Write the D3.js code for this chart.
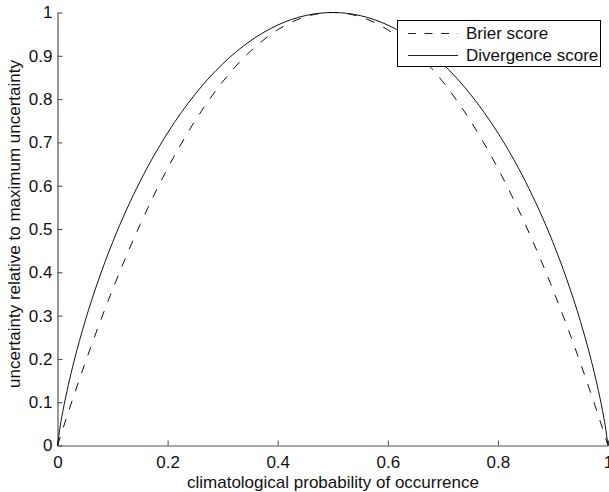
<!DOCTYPE html>
<html><head><meta charset="utf-8">
<script src="https://cdn.jsdelivr.net/npm/d3@7"></script>
<style>body{margin:0;background:#fff}svg{display:block}text{font-family:"Liberation Sans",Arial,sans-serif}</style>
</head><body>
<svg id="c" width="609" height="492"></svg>
<script>
const probs   = [0,0.005,0.01,0.02,0.03,0.05,0.075,0.1,0.15,0.2,0.25,0.3,0.35,0.4,0.45,0.5,0.55,0.6,0.65,0.7,0.75,0.8,0.85,0.9,0.925,0.95,0.97,0.98,0.99,0.995,1];
const brier   = [0,0.0199,0.0396,0.0784,0.1164,0.19,0.2775,0.36,0.51,0.64,0.75,0.84,0.91,0.96,0.99,1,0.99,0.96,0.91,0.84,0.75,0.64,0.51,0.36,0.2775,0.19,0.1164,0.0784,0.0396,0.0199,0];
const diverg  = [0,0.0454,0.0808,0.1414,0.1944,0.2864,0.3843,0.469,0.6098,0.7219,0.8113,0.8813,0.9341,0.971,0.9928,1,0.9928,0.971,0.9341,0.8813,0.8113,0.7219,0.6098,0.469,0.3843,0.2864,0.1944,0.1414,0.0808,0.0454,0];
const xTicks  = [0,0.2,0.4,0.6,0.8,1];
const yTicks  = [0,0.1,0.2,0.3,0.4,0.5,0.6,0.7,0.8,0.9,1];
const seriesNames = ["Brier score","Divergence score"];

const svg = d3.select("#c");
const x = d3.scaleLinear().domain([0,1]).range([57.5,608]);
const y = d3.scaleLinear().domain([0,1]).range([445.5,12.5]);
const fmt = d => d===0||d===1 ? String(d) : d3.format(".1f")(d);
const FS = 17;

const gx = svg.append("g").attr("transform","translate(0,445.5)")
  .call(d3.axisBottom(x).tickValues(xTicks).tickSizeInner(-5).tickSizeOuter(0).tickPadding(10).tickFormat(fmt));
const gy = svg.append("g").attr("transform","translate(57.5,0)")
  .call(d3.axisLeft(y).tickValues(yTicks).tickSizeInner(-5).tickSizeOuter(0).tickPadding(5).tickFormat(fmt));
[gx,gy].forEach(g=>{
  g.select(".domain").attr("stroke","#555").attr("stroke-width",1.2);
  g.selectAll(".tick line").attr("stroke","#444");
  g.selectAll("text").attr("font-size",FS).attr("fill","#111").attr("font-family","Liberation Sans, Arial, sans-serif");
});

const pts = probs.map((p,i)=>({p,b:brier[i],d:diverg[i]}));
const lineB = d3.line().x(d=>x(d.p)).y(d=>y(d.b)).curve(d3.curveMonotoneX);
const lineD = d3.line().x(d=>x(d.p)).y(d=>y(d.d)).curve(d3.curveMonotoneX);
svg.append("path").datum(pts).attr("d",lineB).attr("fill","none").attr("stroke","#111").attr("stroke-width",1).attr("stroke-dasharray","9,10");
svg.append("path").datum(pts).attr("d",lineD).attr("fill","none").attr("stroke","#111").attr("stroke-width",1);

svg.append("text").attr("x",333).attr("y",488).attr("text-anchor","middle").attr("font-size",FS).attr("fill","#111")
  .text("climatological probability of occurrence");
svg.append("text").attr("transform","translate(20,224) rotate(-90)").attr("text-anchor","middle").attr("font-size",FS).attr("fill","#111")
  .text("uncertainty relative to maximum uncertainty");

const lg = svg.append("g");
lg.append("rect").attr("x",397.5).attr("y",20.5).attr("width",203).attr("height",46).attr("fill","#fff").attr("stroke","#000");
const dashes = ["8,8.5", null];
seriesNames.forEach((n,i)=>{
  const yy = 33.5 + i*22;
  lg.append("line").attr("x1",408).attr("x2",458).attr("y1",yy).attr("y2",yy).attr("stroke","#222")
    .attr("stroke-dasharray",dashes[i]);
  lg.append("text").attr("x",466).attr("y",39 + i*22).attr("font-size",FS).attr("fill","#111").text(n);
});
</script>
</body></html>
